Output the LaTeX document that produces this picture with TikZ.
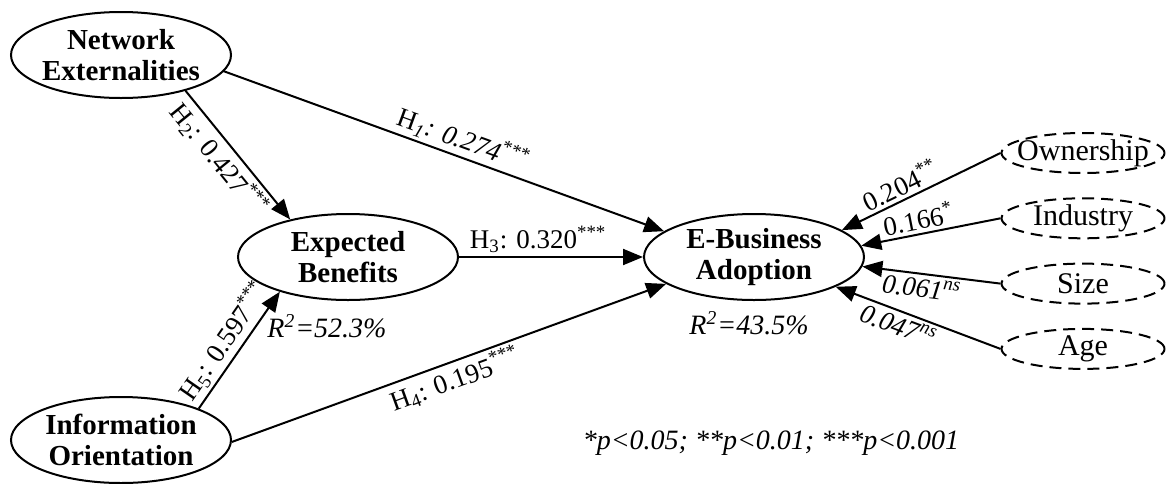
\documentclass[tikz,border=0pt]{standalone}
\usepackage{fontspec}
\setmainfont{Liberation Serif}
\usetikzlibrary{shapes.geometric,arrows.meta}
\tikzset{
    construct element/.style={
        draw,line width=1pt,ellipse,
        fill=white,
        minimum width=110pt,minimum height=43pt,inner ysep=0pt,inner xsep=-2pt,
        align=center,
        font=\fontsize{14.5}{15.5}\selectfont\bfseries
    },
    control element/.style={
        draw,ellipse,line width=1pt,dash pattern=on 6pt off 3.5pt,
        fill=white,
        minimum width=81.5pt,minimum height=20pt,inner ysep=0pt,inner xsep=-5pt,
        font=\fontsize{15}{15}\selectfont
    },
    path label/.style={sloped,inner sep=1.5pt,font=\fontsize{13.5}{15}\selectfont},
    note/.style={font=\fontsize{14}{15}\selectfont\itshape},
    >={Triangle[length=10pt,width=8pt]}
}
\begin{document}
\begin{tikzpicture}[x=0.5pt,y=-0.5pt,line width=1pt]
\useasboundingbox (0,0) rectangle (1166,483);
\node[construct element] (net) at (121,55) {Network\\Externalities};
\node[construct element] (benefit) at (348,257) {Expected\\Benefits};
\node[construct element] (adopt) at (754,257) {E-Business\\Adoption};
\node[construct element] (info) at (121,440) {Information\\Orientation};
\foreach \i/\name in {0/Ownership,1/Industry,2/Size,3/Age}
    \node[control element] (ctrl_\i) at (1083,153+65.3*\i) {\name};
% hypotheses
\draw[->] (net.-9) -- (adopt.164.6) node[path label,above,pos=0.53] {H\textsubscript{\textit{1}}\textit{: 0.274}\textsuperscript{***}};
\draw[->] (net.-29) -- (benefit.147) node[path label,below,pos=0.45] {H\textsubscript{2}: 0.427\textsuperscript{***}};
\draw[->] (benefit.east) -- (adopt.west) node[path label,above,pos=0.43] {H\textsubscript{3}: 0.320\textsuperscript{***}};
\draw[->] (info.-1) -- (adopt.197.6) node[path label,below,pos=0.5] {H\textsubscript{4}: 0.195\textsuperscript{***}};
\draw[->] (info.22) -- (benefit.207) node[path label,above,pos=0.49] {H\textsubscript{5}: 0.597\textsuperscript{***}};
% controls
\draw[<-] (adopt.17.7) -- (ctrl_0.west) node[path label,above,pos=0.41] {0.204\textsuperscript{**}};
\draw[<-] (adopt.6) -- (ctrl_1.west) node[path label,above,pos=0.43] {0.166\textsuperscript{*}};
\draw[<-] (adopt.-5) -- (ctrl_2.west) node[path label,below,pos=0.44] {\textit{0.061\textsuperscript{ns}}};
\draw[<-] (adopt.-20) -- (ctrl_3.west) node[path label,below,pos=0.41] {\textit{0.047\textsuperscript{ns}}};
\node[note] (r_benefit) at (327,326) {R\textsuperscript{2}=52.3\%};
\node[note] (r_adopt) at (749,323) {R\textsuperscript{2}=43.5\%};
\node[note] (sig) at (771,443) {*p<0.05; **p<0.01; ***p<0.001};
\end{tikzpicture}
\end{document}
